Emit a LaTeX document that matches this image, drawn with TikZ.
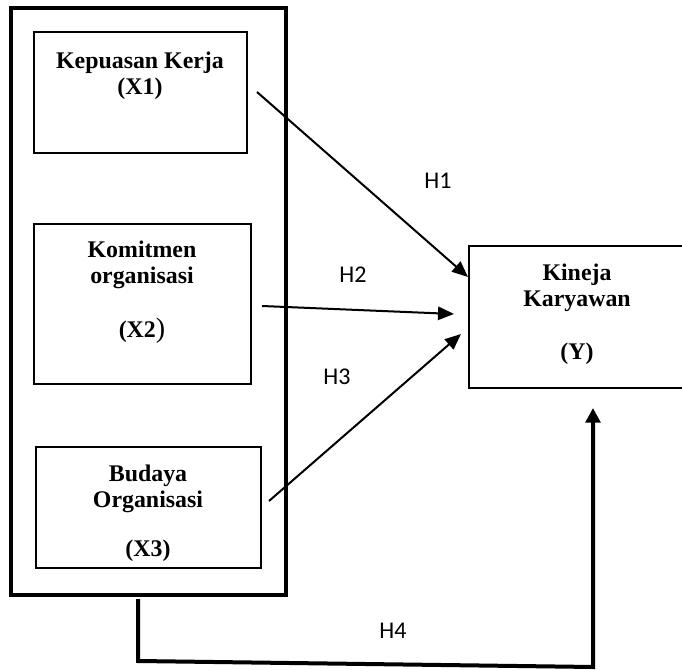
\documentclass[tikz,border=0pt]{standalone}
\usepackage{fontspec}
\setmainfont{Liberation Serif}
\newfontfamily\hfont{Carlito}
\usetikzlibrary{arrows.meta,fit}
\begin{document}
\begin{tikzpicture}[x=0.75pt,y=-0.75pt,
  box/.style={draw,line width=1.5pt,inner sep=0pt},
  outerbox/.style={draw,line width=3pt,inner sep=0pt},
  lbl/.style={align=center,font=\fontsize{17.9}{19.5}\selectfont\bfseries},
  hlbl/.style={font=\hfont\fontsize{18}{21}\selectfont},
  conn/.style={line width=1.5pt,-{Triangle[length=12pt,width=10pt]}},
  bigconn/.style={line width=3pt,-{Triangle[length=11pt,width=11pt]}}]
\useasboundingbox (0,0) rectangle (682,670);
\fill[white] (0,0) rectangle (682,670);
% outer frame
\node[outerbox,fit={(11,8) (286,595)}] (outer) {};
% boxes
\node[box,fit={(34,32) (247,153)}] (x1) {};
\node[box,fit={(34,224) (251,384)}] (x2) {};
\node[box,fit={(36,447) (261,568)}] (x3) {};
\node[box,fit={(469,246) (686,388)}] (y) {};
% texts
\node[lbl] (x1t) at (140,76) {Kepuasan Kerja\\(X1)};
\node[lbl] (x2t) at (142,292) {Komitmen\\organisasi\\[21pt](X2{\fontsize{21}{21}\selectfont\mdseries)}};
\node[lbl] (x3t) at (148,513) {Budaya\\Organisasi\\[17pt](X3)};
\node[lbl] (yt) at (577,314) {Kineja\\Karyawan\\[20pt](Y)};
% connector end points
\coordinate (s1) at (257,92);
\coordinate (e1) at (468,277);
\coordinate (s2) at (262,306);
\coordinate (e2) at (454,314);
\coordinate (s3) at (269,501);
\coordinate (e3) at (461,334);
\coordinate (s4) at (138,599);
\coordinate (b4) at (138,661);
\coordinate (c4) at (593,667);
\coordinate (e4) at (593,408);
\draw[conn] (s1) -- (e1);
\draw[conn] (s2) -- (e2);
\draw[conn] (s3) -- (e3);
\draw[bigconn] (s4) -- (b4) -- (c4) -- (e4);
% labels
\node[hlbl] (h1) at (438,181) {H1};
\node[hlbl] (h2) at (353,275) {H2};
\node[hlbl] (h3) at (337,377) {H3};
\node[hlbl] (h4) at (393,631) {H4};
\end{tikzpicture}
\end{document}
